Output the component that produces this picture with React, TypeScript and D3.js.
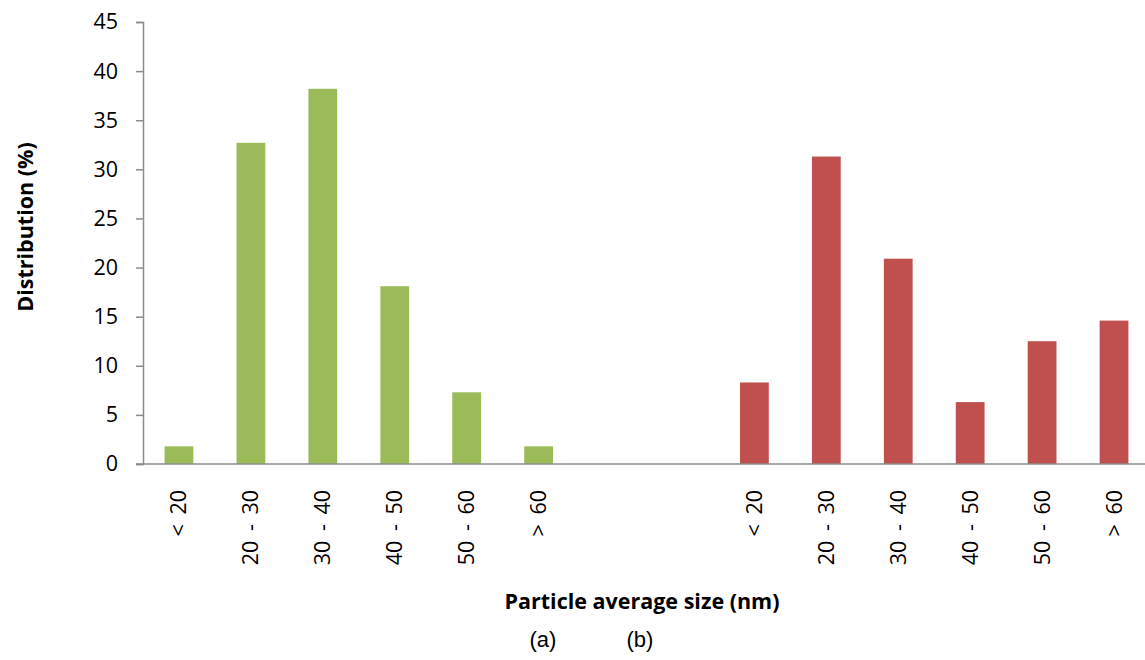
import React, { useEffect, useRef } from 'react';
import * as d3 from 'd3';

// categories along the x axis: sample (a), two empty slots, sample (b)
const sizeBins = ['< 20', '20 - 30', '30 - 40', '40 - 50', '50 - 60', '> 60'];
const slots = [
  ...sizeBins.map(b => 'a|' + b),
  'gap1',
  'gap2',
  ...sizeBins.map(b => 'b|' + b),
];

// distribution (%)
const valuesA = [1.8, 32.7, 38.2, 18.1, 7.3, 1.8];
const valuesB = [8.3, 31.3, 20.9, 6.3, 12.5, 14.6];

const yTicks = [0, 5, 10, 15, 20, 25, 30, 35, 40, 45];

const colorA = '#9BBB59';
const colorB = '#C0504D';

function App() {
  const svgRef = useRef<SVGSVGElement>(null);

  useEffect(() => {
    const W = 1145;
    const H = 660;
    const left = 143;
    const top = 22;
    const bottom = 464;

    const svg = d3.select(svgRef.current).attr('width', W).attr('height', H);
    svg.selectAll('*').remove();

    const bars = [
      ...sizeBins.map((b, i) => ({ key: 'a|' + b, label: b, value: valuesA[i], color: colorA })),
      ...sizeBins.map((b, i) => ({ key: 'b|' + b, label: b, value: valuesB[i], color: colorB })),
    ];

    const x = d3.scaleBand()
      .domain(slots)
      .range([left, 1150])
      .paddingInner(0.6)
      .paddingOuter(0.3);

    const y = d3.scaleLinear().domain([0, 45]).range([bottom, top]);

    // bars
    svg.append('g')
      .selectAll('rect')
      .data(bars)
      .enter().append('rect')
      .attr('x', d => x(d.key)!)
      .attr('width', x.bandwidth())
      .attr('y', d => y(d.value))
      .attr('height', d => bottom - y(d.value))
      .attr('fill', d => d.color);

    // y axis
    const yAxis = svg.append('g')
      .attr('transform', `translate(${left},0)`)
      .call(d3.axisLeft(y).tickValues(yTicks).tickSize(7).tickPadding(18));
    yAxis.select('.domain').attr('stroke', '#8c8c8c').attr('stroke-width', 1.5);
    yAxis.selectAll('.tick line').attr('stroke', '#8c8c8c').attr('stroke-width', 1.5);
    yAxis.selectAll('.tick text')
      .attr('font-family', '"Open Sans", sans-serif')
      .attr('font-size', 21.5)
      .attr('fill', '#000');

    // x axis line
    svg.append('line')
      .attr('x1', left - 7)
      .attr('x2', W)
      .attr('y1', bottom)
      .attr('y2', bottom)
      .attr('stroke', '#8c8c8c')
      .attr('stroke-width', 1.5);

    // rotated category labels
    svg.append('g')
      .selectAll('text')
      .data(bars)
      .enter().append('text')
      .attr('transform', d => `translate(${x(d.key)! + x.bandwidth() / 2},490) rotate(-90)`)
      .attr('text-anchor', 'end')
      .attr('dy', '0.35em')
      .attr('font-family', '"Open Sans", sans-serif')
      .attr('font-size', 21.5)
      .attr('word-spacing', 4)
      .text(d => d.label);

    // axis titles
    svg.append('text')
      .attr('transform', 'translate(33,227) rotate(-90)')
      .attr('text-anchor', 'middle')
      .attr('font-family', '"Open Sans", sans-serif')
      .attr('font-weight', 'bold')
      .attr('font-size', 21.5)
      .text('Distribution (%)');

    svg.append('text')
      .attr('x', 642)
      .attr('y', 609)
      .attr('text-anchor', 'middle')
      .attr('font-family', '"Open Sans", sans-serif')
      .attr('font-weight', 'bold')
      .attr('font-size', 21.5)
      .text('Particle average size (nm)');

    // panel markers
    svg.append('text')
      .attr('x', 543)
      .attr('y', 647)
      .attr('text-anchor', 'middle')
      .attr('font-family', '"Liberation Sans", Arial, sans-serif')
      .attr('font-size', 22)
      .text('(a)');

    svg.append('text')
      .attr('x', 640)
      .attr('y', 647)
      .attr('text-anchor', 'middle')
      .attr('font-family', '"Liberation Sans", Arial, sans-serif')
      .attr('font-size', 22)
      .text('(b)');
  }, []);

  return (
    <svg ref={svgRef} style={{ position: 'absolute', left: 0, top: 0, display: 'block' }}></svg>
  );
}

export default App;
